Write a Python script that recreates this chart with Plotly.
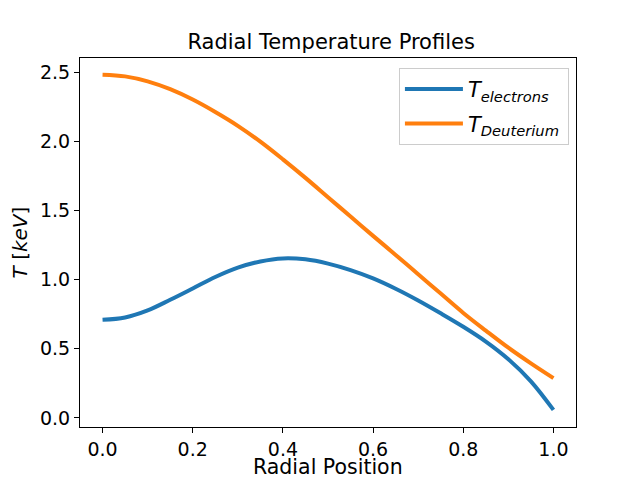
import plotly.graph_objects as go

radial = [0.0, 0.05, 0.1, 0.15, 0.2, 0.25, 0.3, 0.35, 0.4, 0.45, 0.5,
          0.55, 0.6, 0.65, 0.7, 0.75, 0.8, 0.85, 0.9, 0.95, 1.0]
t_electrons = [0.71, 0.727, 0.778, 0.855, 0.937, 1.02, 1.088, 1.133, 1.155, 1.148, 1.117,
               1.07, 1.01, 0.935, 0.85, 0.757, 0.66, 0.553, 0.425, 0.265, 0.058]
t_deuterium = [2.485, 2.473, 2.437, 2.38, 2.305, 2.215, 2.115, 2.0, 1.872, 1.738, 1.598,
               1.458, 1.318, 1.18, 1.04, 0.9, 0.76, 0.632, 0.508, 0.395, 0.288]

x_ticks = [0.0, 0.2, 0.4, 0.6, 0.8, 1.0]
y_ticks = [0.0, 0.5, 1.0, 1.5, 2.0, 2.5]

FONT = "DejaVu Sans"
OFF = 8  # default page body margin of the written html

fig = go.Figure()
fig.add_trace(go.Scatter(x=radial, y=t_electrons, mode="lines", legendgroup="e",
                         line=dict(color="#1f77b4", width=4, shape="spline", smoothing=1.0),
                         name="<i>T</i><sub><i>electrons</i></sub>\u00a0\u00a0"))
fig.add_trace(go.Scatter(x=radial, y=t_deuterium, mode="lines", legendgroup="d",
                         line=dict(color="#ff7f0e", width=4, shape="spline", smoothing=1.0),
                         name="<i>T</i><sub><i>Deuterium</i></sub>"))

axis_common = dict(showline=True, mirror=True, linecolor="black", linewidth=1,
                   ticks="outside", ticklen=5, tickcolor="black", tickwidth=1,
                   showgrid=False, zeroline=False, automargin=False,
                   tickfont=dict(family=FONT, size=19, color="black"))

W, H = 640 - OFF, 480 - OFF
PLOT_TOP, PLOT_BOTTOM = 58 - OFF, 427 - OFF
fig.update_layout(
    template="none",
    width=W, height=H,
    margin=dict(l=80 - OFF, r=64, t=PLOT_TOP, b=H - PLOT_BOTTOM, pad=0),
    paper_bgcolor="white", plot_bgcolor="white",
    font=dict(family=FONT, color="black"),
    title=dict(text="Radial Temperature Profiles", x=(328 - OFF) / W, xanchor="center", xref="paper",
               y=1 - (42 - OFF) / H, yanchor="middle",
               font=dict(family=FONT, size=21, color="black")),
    xaxis=dict(range=[-0.05, 1.05], tickvals=x_ticks, ticktext=[f"{v:.1f}" for v in x_ticks],
               **axis_common),
    yaxis=dict(range=[-0.066, 2.606], tickvals=y_ticks, ticktext=[f"{v:.1f}" for v in y_ticks],
               title=dict(text="<i>T</i> [<i>keV</i>]", font=dict(family=FONT, size=20), standoff=8),
               **axis_common),
    legend=dict(x=0.643, y=0.973, xanchor="left", yanchor="top", tracegroupgap=4,
                itemwidth=58,
                bgcolor="rgba(255,255,255,0.8)", bordercolor="#cccccc", borderwidth=1,
                font=dict(family=FONT, size=21, color="black")),
    showlegend=True,
    annotations=[dict(text="Radial Position", xref="paper", yref="paper",
                      x=0.5, y=-(467 - OFF - PLOT_BOTTOM) / (PLOT_BOTTOM - PLOT_TOP),
                      xanchor="center", yanchor="middle", showarrow=False, borderpad=0,
                      font=dict(family=FONT, size=20.5, color="black"))],
)

fig.write_html("out.html")
